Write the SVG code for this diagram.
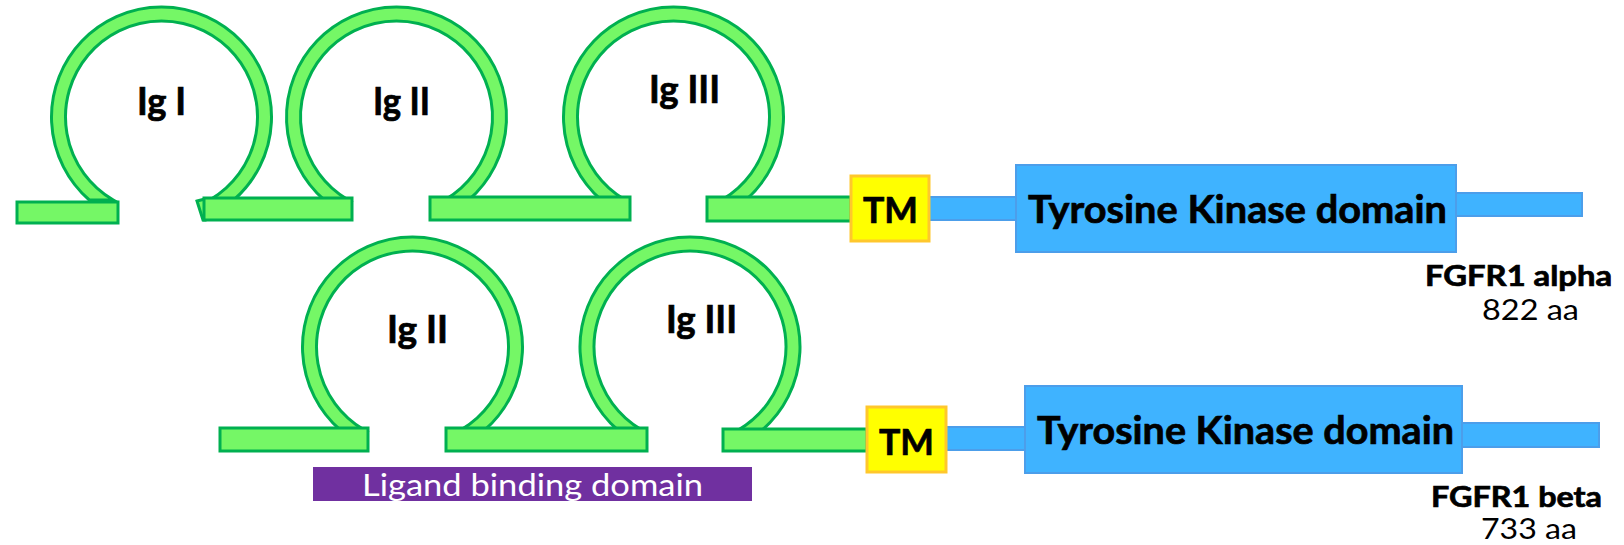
<svg xmlns="http://www.w3.org/2000/svg" xmlns:xlink="http://www.w3.org/1999/xlink" width="1624" height="545" viewBox="0 0 1624 545">
<style>
.ig{fill:#75F766;stroke:#00B050;stroke-width:3;stroke-linejoin:miter}
.lnk{fill:#75F766;stroke:#00B050;stroke-width:3}
.blue{fill:#3FB3FF;stroke:#4C9EEA;stroke-width:2}
.tm{fill:#FFFF00;stroke:#FFC72C;stroke-width:3}
.lbl{font-family:Lato,"Liberation Sans",sans-serif;font-weight:bold;fill:#000;stroke:#000;stroke-width:0.7;text-anchor:middle}
.reg{font-family:Lato,"Liberation Sans",sans-serif;fill:#000;text-anchor:middle}
</style>
<defs>
<path id="loop" d="M -72.2 83 A 110 110 0 1 1 72.2 83 L 48.2 83 A 96 96 0 1 0 -48.2 83 Z"/>
</defs>
<rect width="1624" height="545" fill="#fff"/>

<!-- FGFR1 alpha -->
<g id="alpha-IgI"><use xlink:href="#loop" class="ig" x="161.5" y="117"/><text class="lbl" x="161.5" y="115" font-size="38" textLength="49" lengthAdjust="spacingAndGlyphs">Ig I</text></g>
<g id="alpha-IgII"><use xlink:href="#loop" class="ig" x="396.5" y="117"/><text class="lbl" x="401.5" y="115" font-size="38" textLength="57" lengthAdjust="spacingAndGlyphs">Ig II</text></g>
<g id="alpha-IgIII"><use xlink:href="#loop" class="ig" x="673.5" y="117"/><text class="lbl" x="684.5" y="103" font-size="38" textLength="71" lengthAdjust="spacingAndGlyphs">Ig III</text></g>

<!-- FGFR1 beta -->
<g id="beta-IgII"><use xlink:href="#loop" class="ig" x="412.5" y="347"/><text class="lbl" x="417.5" y="343" font-size="38" textLength="61" lengthAdjust="spacingAndGlyphs">Ig II</text></g>
<g id="beta-IgIII"><use xlink:href="#loop" class="ig" x="690" y="347"/><text class="lbl" x="701.5" y="333" font-size="38" textLength="71" lengthAdjust="spacingAndGlyphs">Ig III</text></g>

<g id="connectors">
<rect class="lnk" x="17" y="202" width="101" height="21"/>
<polygon class="lnk" points="197,201 205,199 205,220 203,220"/>
<rect class="lnk" x="204" y="198" width="148" height="22"/>
<rect class="lnk" x="430" y="197" width="200" height="23"/>
<rect class="lnk" x="707" y="197" width="144" height="24"/>
<rect class="blue" x="929" y="197" width="88" height="23"/>
<rect class="blue" x="1455" y="193" width="127" height="23"/>
<rect class="lnk" x="220" y="428" width="148" height="23"/>
<rect class="lnk" x="446" y="428" width="201" height="23"/>
<rect class="lnk" x="723" y="429" width="144" height="22"/>
<rect class="blue" x="946" y="427" width="79" height="23"/>
<rect class="blue" x="1462" y="423" width="137" height="24"/>
</g>

<g id="alpha-TM"><rect class="tm" x="851" y="176" width="78" height="65"/><text class="lbl" x="890.5" y="223" font-size="37" textLength="55" lengthAdjust="spacingAndGlyphs">TM</text></g>
<g id="alpha-TK"><rect class="blue" x="1016" y="165" width="440" height="87"/><text class="lbl" x="1237.5" y="223" font-size="39" textLength="419" lengthAdjust="spacingAndGlyphs">Tyrosine Kinase domain</text></g>
<g id="alpha-label"><text class="lbl" x="1518.5" y="286" font-size="28" textLength="187" lengthAdjust="spacingAndGlyphs">FGFR1 alpha</text><text class="reg" x="1530.5" y="320" font-size="29" textLength="97" lengthAdjust="spacingAndGlyphs">822 aa</text></g>

<g id="beta-TM"><rect class="tm" x="867" y="407" width="79" height="65"/><text class="lbl" x="906.5" y="455" font-size="37" textLength="55" lengthAdjust="spacingAndGlyphs">TM</text></g>
<g id="beta-TK"><rect class="blue" x="1025" y="386" width="437" height="87"/><text class="lbl" x="1245.5" y="444" font-size="39" textLength="417" lengthAdjust="spacingAndGlyphs">Tyrosine Kinase domain</text></g>
<g id="beta-label"><text class="lbl" x="1516.5" y="507" font-size="28" textLength="171" lengthAdjust="spacingAndGlyphs">FGFR1 beta</text><text class="reg" x="1529" y="539" font-size="29" textLength="96" lengthAdjust="spacingAndGlyphs">733 aa</text></g>

<g id="ligand-binding"><rect x="313" y="467" width="439" height="34" fill="#7030A0"/><text class="reg" x="532.5" y="496" font-size="30" style="fill:#fff" textLength="341" lengthAdjust="spacingAndGlyphs">Ligand binding domain</text></g>
</svg>
